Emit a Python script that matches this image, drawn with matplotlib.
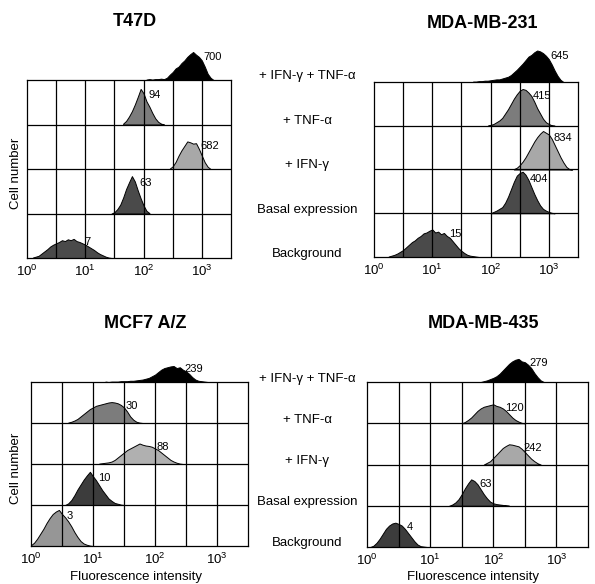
#!/usr/bin/python

# Flow cytometry histograms for four breast cancer cell lines,
# five conditions stacked per panel, log fluorescence on x.

import numpy as np
import matplotlib
matplotlib.use('Agg')
import matplotlib.pyplot as plt
import matplotlib.transforms as mtrans

plt.rcParams['font.family'] = ['Liberation Sans', 'DejaVu Sans']
plt.rcParams['mathtext.fontset'] = 'custom'
plt.rcParams['mathtext.rm'] = 'Liberation Sans'

bin_w = 0.05   # bin width in decades

conditions = ['Background', 'Basal expression', '+ IFN-\u03b3',
              '+ TNF-\u03b1', '+ IFN-\u03b3 + TNF-\u03b1']

# --- T47D  (start in log10 units, counts scaled to % of row height) ---
t47d_start = [0.10, 1.45, 2.45, 1.65, 2.05]
t47d_counts = [
    [1, 3, 5, 10, 15, 20, 26, 30, 33, 36, 40, 38, 42, 40, 43, 38, 36, 33, 30, 26,
     22, 18, 13, 9, 6, 3, 1, 0],
    [0, 3, 10, 20, 36, 55, 70, 84, 72, 52, 34, 18, 6, 1],
    [1, 6, 16, 30, 42, 52, 62, 60, 57, 58, 45, 30, 15, 5, 0],
    [2, 8, 18, 30, 45, 62, 80, 70, 52, 40, 26, 14, 6, 2, 0],
    [1, 2, 1, 2, 2, 3, 2, 5, 12, 18, 26, 30, 38, 44, 52, 58, 63, 57, 52, 44,
     30, 14, 5, 0],
]
t47d_labels = ['7', '63', '682', '94', '700']

# --- MDA-MB-231 ---
mb231_start = [0.25, 2.00, 2.40, 1.95, 1.70]
mb231_counts = [
    [1, 3, 5, 8, 12, 16, 22, 28, 34, 38, 44, 48, 54, 56, 60, 63, 56, 58, 52, 55,
     48, 44, 36, 28, 20, 14, 9, 5, 3, 2, 1, 0],
    [0, 3, 6, 10, 14, 24, 38, 55, 72, 86, 92, 95, 88, 76, 60, 44, 30, 18, 10, 6,
     3, 1, 0],
    [1, 4, 10, 18, 28, 40, 52, 64, 74, 82, 88, 84, 80, 70, 56, 42, 28, 16, 6, 1, 0],
    [0, 2, 4, 8, 12, 18, 28, 38, 50, 62, 72, 80, 84, 82, 76, 68, 55, 40, 28, 16,
     8, 4, 1, 0],
    [1, 1, 2, 2, 3, 3, 4, 5, 6, 6, 8, 10, 12, 16, 22, 28, 35, 42, 50, 58,
     62, 68, 72, 70, 66, 60, 52, 40, 26, 14, 5, 0],
]
mb231_labels = ['15', '404', '834', '415', '645']

# --- MCF7 A/Z ---
mcf7_start = [0.00, 0.55, 1.10, 0.60, 1.20]
mcf7_counts = [
    [2, 8, 18, 30, 42, 56, 68, 78, 84, 88, 78, 70, 60, 48, 34, 22, 12, 6, 3, 1, 0],
    [0, 4, 12, 24, 38, 50, 62, 72, 81, 70, 60, 48, 36, 26, 16, 10, 5, 3, 1, 0],
    [1, 2, 3, 4, 6, 10, 16, 22, 28, 34, 38, 42, 46, 50, 47, 45, 44, 42, 38, 34,
     28, 22, 16, 10, 6, 3, 1, 0],
    [1, 3, 6, 10, 16, 22, 28, 34, 38, 42, 44, 46, 48, 50, 51, 50, 48, 44, 38, 28,
     16, 8, 3, 1, 0],
    [1, 0, 1, 1, 1, 2, 2, 2, 3, 3, 4, 5, 6, 8, 10, 14, 18, 24, 30, 34,
     36, 38, 39, 34, 36, 30, 26, 20, 12, 6, 3, 2, 1, 0],
]
mcf7_labels = ['3', '10', '88', '30', '239']

# --- MDA-MB-435 ---
mb435_start = [0.05, 1.30, 1.85, 1.50, 1.80]
mb435_counts = [
    [0, 3, 10, 20, 32, 44, 52, 57, 59, 56, 52, 44, 34, 24, 14, 6, 2, 1, 0],
    [0, 3, 8, 16, 28, 42, 54, 64, 60, 52, 40, 28, 18, 10, 6, 4, 3, 2, 1, 0],
    [0, 4, 8, 16, 24, 32, 40, 45, 49, 48, 46, 44, 38, 30, 22, 14, 8, 3, 0],
    [0, 3, 8, 14, 22, 30, 36, 40, 42, 44, 46, 42, 40, 36, 30, 22, 14, 8, 4, 1, 0],
    [0, 2, 4, 7, 10, 14, 20, 28, 36, 44, 50, 54, 56, 50, 48, 42, 34, 22, 12, 4, 0],
]
mb435_labels = ['4', '63', '242', '120', '279']

fills = {
    'T47D': ['#4a4a4a', '#4a4a4a', '#a8a8a8', '#7c7c7c', '#000000'],
    'MDA-MB-231': ['#4a4a4a', '#4a4a4a', '#a8a8a8', '#7c7c7c', '#000000'],
    'MCF7 A/Z': ['#969696', '#3c3c3c', '#b0b0b0', '#7c7c7c', '#000000'],
    'MDA-MB-435': ['#3c3c3c', '#4a4a4a', '#a8a8a8', '#7c7c7c', '#000000'],
}

W, H = 595.0, 584.0
fig = plt.figure(figsize=(W / 100, H / 100), dpi=100)

# panel boxes in pixels: left, top, right, bottom
panels = [
    ('T47D', t47d_start, t47d_counts, t47d_labels, (27, 80, 231, 258), True, False),
    ('MDA-MB-231', mb231_start, mb231_counts, mb231_labels, (374, 82, 578, 257), False, False),
    ('MCF7 A/Z', mcf7_start, mcf7_counts, mcf7_labels, (31, 382, 248, 546), True, True),
    ('MDA-MB-435', mb435_start, mb435_counts, mb435_labels, (367, 382, 588, 547), False, True),
]

axes = []
for name, starts, counts, labs, box, ylab, xlab in panels:
    l, t, r, b = box
    ax = fig.add_axes([l / W, 1 - b / H, (r - l) / W, (b - t) / H])
    axes.append(ax)
    ax.set_xlim(0, 3.5)
    ax.set_ylim(0, 4)

    for row in range(5):
        h = np.array(counts[row]) / 100.0
        x = starts[row] + bin_w * np.arange(len(h))
        ax.fill_between(x, row, row + h, facecolor=fills[name][row],
                        edgecolor='black', linewidth=0.7, clip_on=False, zorder=1)
        # mean fluorescence label, just right of the peak
        ypk = h.max() * 0.82
        xr = x[np.where(h >= ypk)[0][-1]]
        ax.text(xr + 0.08, row + ypk, labs[row], fontsize=8, ha='left',
                va='center', zorder=4)

    for gx in np.arange(0.5, 3.5, 0.5):
        ax.axvline(gx, color='black', lw=0.9, zorder=2)
    for gy in [1, 2, 3]:
        ax.axhline(gy, color='black', lw=0.9, zorder=2)
    for s in ax.spines.values():
        s.set_linewidth(0.9)
        s.set_zorder(3)

    ax.set_xticks([0, 1, 2, 3])
    ax.set_xticklabels([r'$\mathregular{10^{%d}}$' % k for k in range(4)], fontsize=9.5)
    ax.tick_params(axis='x', length=0, pad=4)
    ax.set_yticks([])

    cx = (l + r) / 2.0 + 6
    fig.text(cx / W, 1 - (t - 59) / H, name, fontsize=13, fontweight='bold',
             ha='center', va='center')
    if ylab:
        fig.text(16 / W, 1 - ((t + b) / 2.0 + 4) / H, 'Cell number', fontsize=9.5,
                 rotation=90, ha='center', va='center')
    if xlab:
        fig.text(((l + r) / 2.0 - 4) / W, 1 - 577 / H, 'Fluorescence intensity',
                 fontsize=9.5, ha='center', va='center')

# condition labels in the middle column
for ax in [axes[0], axes[2]]:
    tr = mtrans.blended_transform_factory(fig.transFigure, ax.transData)
    for row in range(5):
        ax.text(307 / W, row + 0.08, conditions[row], transform=tr, fontsize=9.5,
                ha='center', va='center')

plt.savefig('out.png', dpi=100)
